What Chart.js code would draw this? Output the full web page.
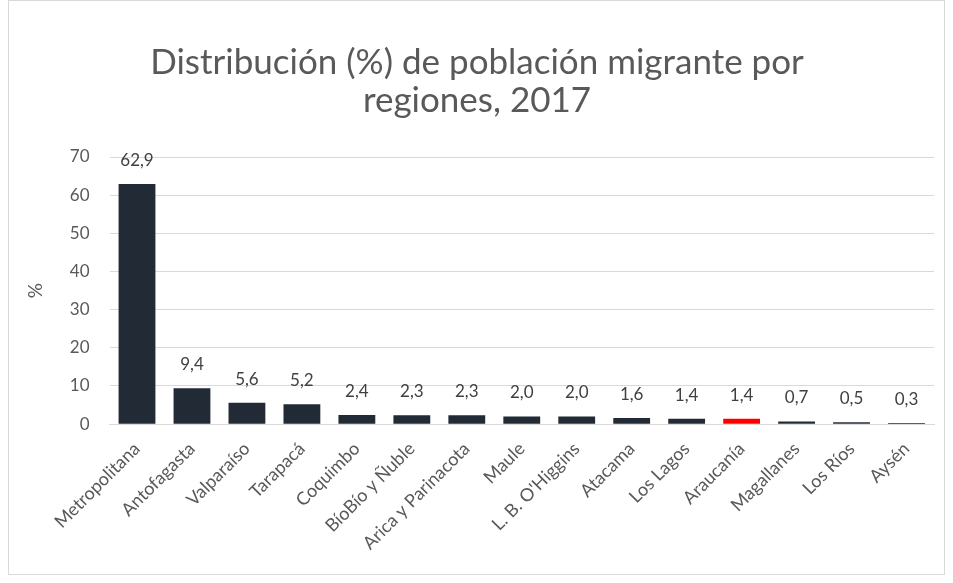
<!DOCTYPE html>
<html><head><meta charset="utf-8">
<script src="https://cdn.jsdelivr.net/npm/chart.js@4/dist/chart.umd.min.js"></script>
<style>html,body{margin:0;padding:0;background:#fff;}#wrap{width:953px;height:583px;position:relative;}</style>
</head><body><div id="wrap"><canvas id="c" width="953" height="583"></canvas></div>
<script>
const categories = ["Metropolitana","Antofagasta","Valparaíso","Tarapacá","Coquimbo","BíoBío y Ñuble","Arica y Parinacota","Maule","L. B. O'Higgins","Atacama","Los Lagos","Araucanía","Magallanes","Los Ríos","Aysén"];
const values = [62.9,9.4,5.6,5.2,2.4,2.3,2.3,2.0,2.0,1.6,1.4,1.4,0.7,0.5,0.3];
const barColors = ["#222a35","#222a35","#222a35","#222a35","#222a35","#222a35","#222a35","#222a35","#222a35","#222a35","#222a35","#ff0000","#222a35","#222a35","#222a35"];
const yTicks = [0,10,20,30,40,50,60,70];
const titleLines = ["Distribución (%) de población migrante por","regiones, 2017"];

const FONT = "Lato, 'Open Sans', sans-serif";

const labelPlugin = {
  id: 'labels',
  afterDatasetsDraw(chart) {
    const ctx = chart.ctx;
    const meta = chart.getDatasetMeta(0);
    ctx.save();
    ctx.font = "17px " + FONT;
    ctx.fillStyle = "#404040";
    ctx.textAlign = "center";
    ctx.textBaseline = "bottom";
    meta.data.forEach((bar, i) => {
      ctx.fillText(values[i].toFixed(1).replace('.', ','), bar.x, bar.y - 15);
    });
    ctx.restore();
  }
};
const borderPlugin = {
  id: 'border',
  beforeDraw(chart) {
    const ctx = chart.ctx;
    ctx.save();
    ctx.fillStyle = "#fff";
    ctx.fillRect(0,0,chart.width,chart.height);
    ctx.strokeStyle = "#d9d9d9";
    ctx.lineWidth = 1;
    ctx.strokeRect(8.5, 0.5, 936, 574);
    ctx.restore();
  }
};

new Chart(document.getElementById('c'), {
  type: 'bar',
  data: {
    labels: categories,
    datasets: [{ data: values, backgroundColor: barColors, barPercentage: 0.67, categoryPercentage: 1.0 }]
  },
  options: {
    responsive: false,
    animation: false,
    layout: { padding: { left: 20, right: 19, top: 18, bottom: 15 } },
    plugins: {
      legend: { display: false },
      tooltip: { enabled: false },
      title: { display: true, text: titleLines, color: "#595959", font: { family: FONT, size: 35, weight: 'normal', lineHeight: 1.1 }, padding: { top: 25, bottom: 37 } }
    },
    scales: {
      x: {
        grid: { display: false, drawTicks: false },
        border: { color: "#d9d9d9" },
        ticks: { color: "#595959", font: { family: FONT, size: 18 }, maxRotation: 45, minRotation: 45, autoSkip: false, padding: 14 }
      },
      y: {
        min: 0, max: 70,
        afterBuildTicks(axis) { axis.ticks = yTicks.map(v => ({ value: v })); },
        grid: { color: "#d9d9d9", drawTicks: false },
        border: { display: false },
        ticks: { color: "#595959", font: { family: FONT, size: 17 }, padding: 20 },
        title: { display: true, text: "%", color: "#595959", font: { family: FONT, size: 19 }, padding: { bottom: 3 } }
      }
    }
  },
  plugins: [borderPlugin, labelPlugin]
});
</script></body></html>
